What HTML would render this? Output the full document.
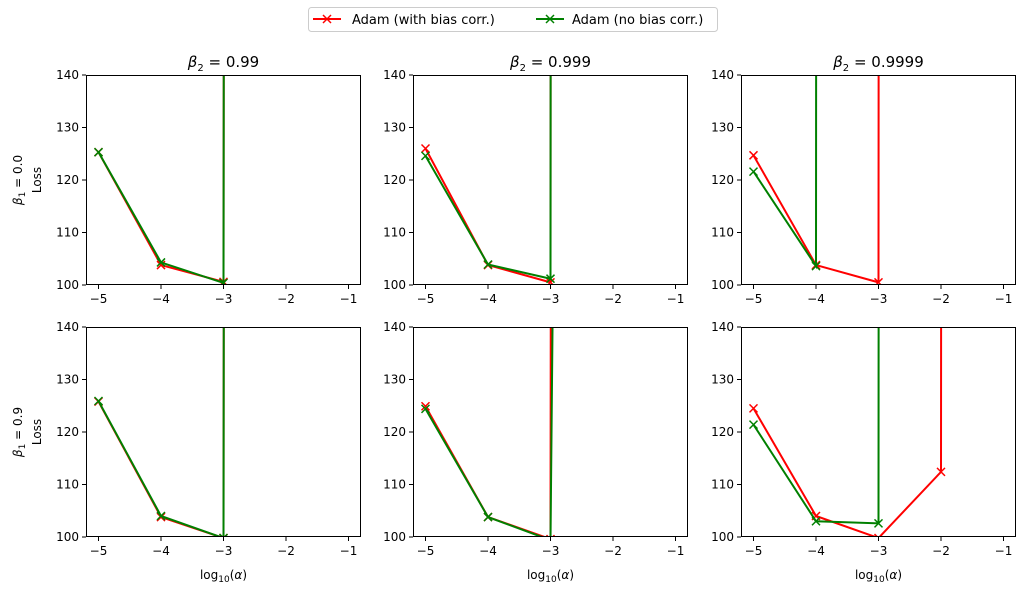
<!DOCTYPE html>
<html><head><meta charset="utf-8"><style>
body{margin:0;background:#fff;}
svg{display:block;font-family:"DejaVu Sans","Liberation Sans",sans-serif;}
</style></head><body>
<svg id="s" width="1025" height="594" xmlns="http://www.w3.org/2000/svg">
<rect x="0" y="0" width="1025" height="594" fill="#fff"/>
<g>
<rect x="308.5" y="7.5" width="409" height="24" rx="3" fill="#fff" stroke="#ccc"/>
<line x1="313" y1="19" x2="341" y2="19" stroke="red" stroke-width="2"/>
<path d="M323,15 l8,8 M331,15 l-8,8" stroke="red" stroke-width="1.5"/>
<text x="352" y="24" font-size="13">Adam (with bias corr.)</text>
<line x1="536" y1="19" x2="564" y2="19" stroke="green" stroke-width="2"/>
<path d="M546,15 l8,8 M554,15 l-8,8" stroke="green" stroke-width="1.5"/>
<text x="572" y="24" font-size="13">Adam (no bias corr.)</text>
</g>
</svg>
<script>
const s=document.getElementById('s');const NS='http://www.w3.org/2000/svg';
function el(t,a,txt){const e=document.createElementNS(NS,t);for(const k in a)e.setAttribute(k,a[k]);if(txt!==undefined)e.innerHTML=txt;s.appendChild(e);return e;}
const lefts=[86,413,741],tops=[75,327],W=275,H=210;
const titles=['0.99','0.999','0.9999'];
const data=[
[[[[-5,125.3],[-4,103.8],[-3,100.6],[-2.99,200]],[[-5,125.3],[-4,104.3],[-3,100.4],[-2.99,200]]],
 [[[-5,126],[-4,103.8],[-3,100.5],[-2.995,200]],[[-5,124.6],[-4,103.9],[-3,101.2],[-2.995,200]]],
 [[[-5,124.7],[-4,103.8],[-3,100.5],[-2.995,200]],[[-5,121.6],[-4,103.6],[-3.995,200]]]],
[[[[-5,125.8],[-4,103.8],[-3,99.8],[-2.99,200]],[[-5,125.9],[-4,104],[-3,99.8],[-2.99,200]]],
 [[[-5,124.9],[-4,103.8],[-3,99.6],[-2.99,200]],[[-5,124.4],[-4,103.8],[-3,99.4],[-2.92,200]]],
 [[[-5,124.5],[-4,104],[-3,99.8],[-2,112.4],[-1.995,200]],[[-5,121.4],[-4,103],[-3,102.6],[-2.995,200]]]]];
let cid=0;
for(let r=0;r<2;r++)for(let c=0;c<3;c++){
 const L=lefts[c],T=tops[r];
 const X=v=>L+(v+5.2)*62.5, Y=v=>T+H-(v-100)*5.25;
 const id='c'+(cid++);
 const cp=el('clipPath',{id:id});const cr=document.createElementNS(NS,'rect');
 cr.setAttribute('x',L);cr.setAttribute('y',T);cr.setAttribute('width',W);cr.setAttribute('height',H);cp.appendChild(cr);
 ['red','green'].forEach((col,i)=>{
  const pts=data[r][c][i];
  el('polyline',{points:pts.map(p=>X(p[0])+','+Y(p[1])).join(' '),fill:'none',stroke:col,'stroke-width':2,'clip-path':'url(#'+id+')'});
  pts.forEach(p=>{if(p[1]<141&&Number.isInteger(p[0])){const x=X(p[0]),y=Y(p[1]);
   el('path',{d:`M${x-4},${y-4}L${x+4},${y+4}M${x+4},${y-4}L${x-4},${y+4}`,stroke:col,'stroke-width':1.5,'clip-path':'url(#'+id+')'});}});
 });
 el('rect',{x:L+.5,y:T+.5,width:W-1,height:H-1,fill:'none',stroke:'#000','stroke-width':1});
 for(let v=-5;v<=-1;v++){const x=X(v);el('line',{x1:x,y1:T+H,x2:x,y2:T+H+4,stroke:'#000'});
  el('text',{x:x,y:T+H+18,'font-size':12,'text-anchor':'middle'},'\u2212'+(-v));}
 for(let v=100;v<=140;v+=10){const y=Y(v);el('line',{x1:L-4,y1:y,x2:L,y2:y,stroke:'#000'});
  el('text',{x:L-7,y:y+4,'font-size':12,'text-anchor':'end'},v);}
 if(r==0)el('text',{x:L+W/2,y:T-8,'font-size':15,'text-anchor':'middle'},'<tspan font-style="italic">β</tspan><tspan font-size="10" dy="4">2</tspan><tspan dy="-4"> = '+titles[c]+'</tspan>');
 if(r==1)el('text',{x:L+W/2,y:T+H+42,'font-size':12,'text-anchor':'middle'},'log<tspan font-size="9" dy="3">10</tspan><tspan dy="-3">(</tspan><tspan font-style="italic">α</tspan>)');
 if(c==0){const cy=T+H/2;
  el('text',{x:0,y:0,'font-size':12,'text-anchor':'middle',transform:`translate(22,${cy}) rotate(-90)`},'<tspan font-style="italic">β</tspan><tspan font-size="9" dy="3">1</tspan><tspan dy="-3"> = '+(r==0?'0.0':'0.9')+'</tspan>');
  el('text',{x:0,y:0,'font-size':12,'text-anchor':'middle',transform:`translate(41,${cy}) rotate(-90)`},'Loss');}
}
</script>
</body></html>
